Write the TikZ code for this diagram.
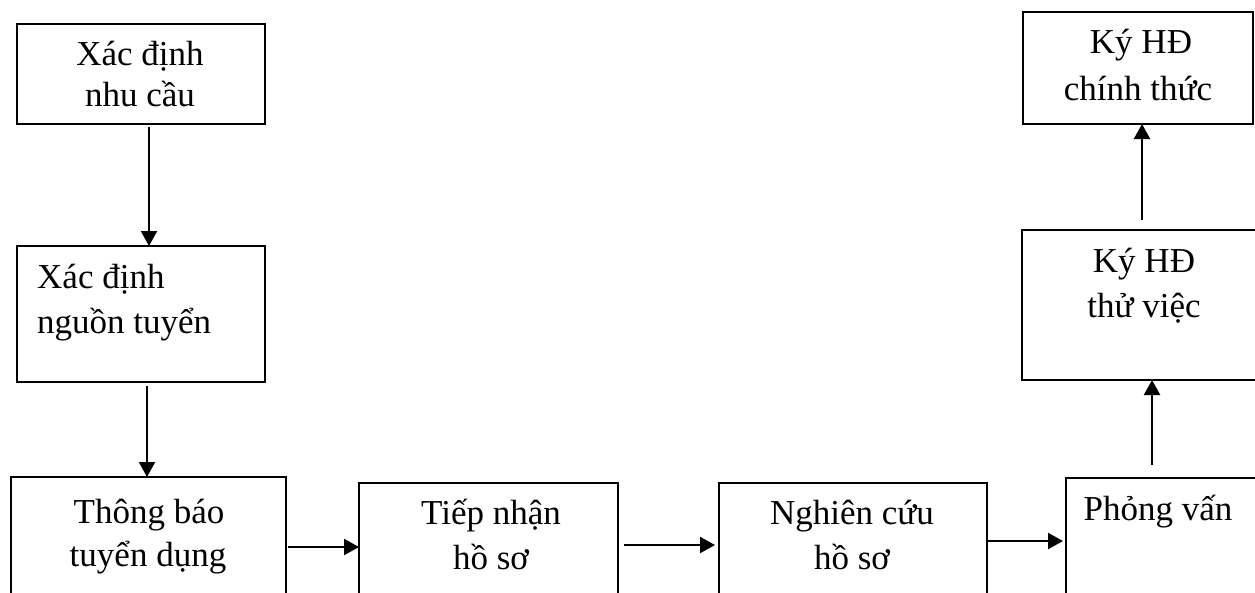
\documentclass[tikz,border=0pt]{standalone}
\usepackage{fontspec}
\setmainfont{Liberation Serif}
\usetikzlibrary{arrows.meta}
\begin{document}
\begin{tikzpicture}[x=1pt,y=-1pt,
  box/.style={draw, line width=1.8pt, anchor=north west, inner sep=0pt, outer sep=0pt},
  lbl/.style={anchor=base, inner sep=0pt, font=\fontsize{35}{41}\selectfont},
  lbll/.style={lbl, anchor=base west},
  flow/.style={line width=2.2pt, -{Triangle[length=15pt,width=16pt]}}]
\useasboundingbox (0,0) rectangle (1255,592);
\clip (0,0) rectangle (1255,592);

% process boxes
\node[box, minimum width=248pt, minimum height=100pt] (b1) at (17,24) {};
\node[box, minimum width=248pt, minimum height=136pt] (b2) at (17,246) {};
\node[box, minimum width=275pt, minimum height=140pt] (b3) at (11,477) {};
\node[box, minimum width=259pt, minimum height=140pt] (b4) at (359,483) {};
\node[box, minimum width=268pt, minimum height=140pt] (b5) at (719,483) {};
\node[box, minimum width=220pt, minimum height=140pt] (b6) at (1066,478) {};
\node[box, minimum width=260pt, minimum height=150pt] (b7) at (1022,230) {};
\node[box, minimum width=230pt, minimum height=112pt] (b8) at (1023,12) {};

% box texts
\node[lbl] (t1a) at (140,65) {Xác định};
\node[lbl] (t1b) at (140,106) {nhu cầu};
\node[lbll] (t2a) at (37,288) {Xác định};
\node[lbll] (t2b) at (37,333) {nguồn tuyển};
\node[lbl] (t3a) at (149,523) {Thông báo};
\node[lbl] (t3b) at (148,566) {tuyển dụng};
\node[lbl] (t4a) at (491,524) {Tiếp nhận};
\node[lbl] (t4b) at (491,569) {hồ sơ};
\node[lbl] (t5a) at (852,524) {Nghiên cứu};
\node[lbl] (t5b) at (852,569) {hồ sơ};
\node[lbl] (t6a) at (1158,520) {Phỏng vấn};
\node[lbl] (t7a) at (1144,272) {Ký HĐ};
\node[lbl] (t7b) at (1144,317) {thử việc};
\node[lbl] (t8a) at (1141,53) {Ký HĐ};
\node[lbl] (t8b) at (1138,100) {chính thức};

% connectors
\draw[flow] ([xshift=8pt,yshift=-3pt]b1.south) -- ([xshift=8pt]b2.north);
\draw[flow] ([xshift=6pt,yshift=-4pt]b2.south) -- ([xshift=-1.5pt]b3.north);
\draw[flow] ([xshift=2pt,yshift=-70pt]b3.north east) -- ([yshift=-64pt]b4.north west);
\draw[flow] ([xshift=6pt,yshift=-62pt]b4.north east) -- ([xshift=-4pt,yshift=-62pt]b5.north west);
\draw[flow] ([xshift=1pt,yshift=-58pt]b5.north east) -- ([xshift=-3pt,yshift=-63pt]b6.north west);
\draw[flow] ([xshift=86pt,yshift=13pt]b6.north west) -- ([xshift=130pt]b7.south west);
\draw[flow] ([xshift=120pt,yshift=10pt]b7.north west) -- ([xshift=119pt]b8.south west);
\end{tikzpicture}
\end{document}
